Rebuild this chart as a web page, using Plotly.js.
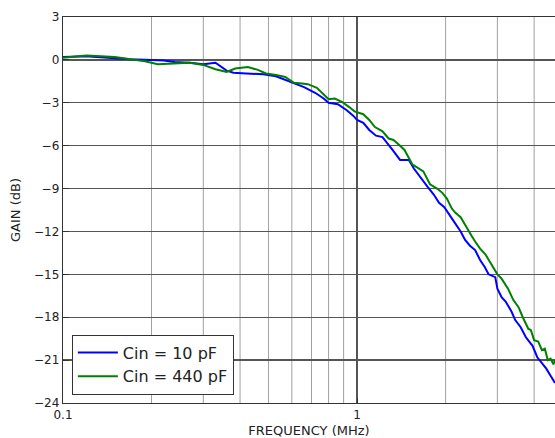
<!DOCTYPE html>
<html>
<head>
<meta charset="utf-8">
<script src="https://cdn.plot.ly/plotly-3.0.1.min.js"></script>
<style>html,body{margin:0;padding:0;background:#fff;}#chart{width:555px;height:438px;}</style>
</head>
<body>
<div id="chart"></div>
<script>
const seriesNames = ["Cin = 10 pF", "Cin = 440 pF"];
const freqBlue = [0.1,0.11,0.12,0.13,0.15,0.17,0.2,0.22,0.24,0.27,0.3,0.33,0.36,0.38,0.42,0.48,0.53,0.57,0.61,0.66,0.72,0.77,0.8,0.86,0.92,0.97,1.0,1.05,1.1,1.16,1.22,1.26,1.32,1.4,1.5,1.56,1.65,1.74,1.82,1.9,1.98,2.05,2.15,2.25,2.33,2.42,2.52,2.62,2.72,2.8,2.95,3.0,3.1,3.2,3.35,3.45,3.6,3.75,3.85,3.95,4.1,4.25,4.4,4.55,4.71];
const gainBlue = [0.2,0.22,0.25,0.2,0.1,0.05,0.0,-0.05,-0.15,-0.2,-0.3,-0.2,-0.75,-0.9,-0.95,-1.0,-1.15,-1.4,-1.6,-1.9,-2.3,-2.7,-3.0,-3.1,-3.5,-3.9,-4.2,-4.4,-4.9,-5.3,-5.4,-5.8,-6.3,-7.0,-7.0,-7.6,-8.3,-8.9,-9.4,-10.0,-10.3,-10.8,-11.4,-12.0,-12.6,-13.0,-13.3,-14.0,-14.5,-15.0,-15.2,-16.0,-16.6,-16.9,-17.6,-18.2,-18.7,-19.4,-19.7,-20.0,-20.8,-21.2,-21.6,-22.1,-22.6];
const freqGreen = [0.1,0.11,0.12,0.13,0.15,0.17,0.19,0.21,0.24,0.27,0.3,0.33,0.36,0.385,0.425,0.46,0.49,0.53,0.57,0.61,0.65,0.68,0.73,0.76,0.8,0.84,0.89,0.94,0.98,1.05,1.1,1.15,1.22,1.28,1.33,1.4,1.45,1.54,1.6,1.68,1.77,1.87,1.95,2.02,2.1,2.16,2.25,2.38,2.45,2.52,2.62,2.73,2.85,3.0,3.1,3.26,3.4,3.54,3.66,3.82,3.9,4.0,4.13,4.25,4.35,4.45,4.55,4.65,4.71];
const gainGreen = [0.15,0.22,0.3,0.28,0.2,0.05,-0.1,-0.3,-0.25,-0.2,-0.35,-0.65,-0.85,-0.6,-0.5,-0.7,-0.95,-1.05,-1.2,-1.6,-1.65,-1.7,-1.95,-2.3,-2.75,-2.7,-2.95,-3.3,-3.6,-3.8,-4.2,-4.7,-5.0,-5.5,-5.6,-6.0,-6.3,-7.3,-7.5,-7.8,-8.7,-9.0,-9.3,-9.7,-10.4,-10.7,-11.0,-11.9,-12.3,-12.7,-13.2,-13.6,-14.2,-15.0,-15.3,-16.0,-16.8,-17.3,-18.0,-18.8,-18.9,-19.6,-19.7,-20.3,-20.2,-21.0,-20.9,-21.3,-21.0];
const yTicks = [-24,-21,-18,-15,-12,-9,-6,-3,0,3];
const xTickVals = [0.1, 1];
const xTickText = ["0.1", "1"];
const minorVals = [0.2,0.3,0.4,0.5,0.6,0.7,0.8,0.9,2,3,4];

const font = "DejaVu Sans, sans-serif";
const shapes = minorVals.map(v => ({type:"line", xref:"x", yref:"paper", x0:v, x1:v, y0:0, y1:1, layer:"below", line:{color:"#a0a0a0", width:1}}));

const traces = [
  {x: freqBlue, y: gainBlue, name: seriesNames[0], mode: "lines", line: {color: "#0000ff", width: 2}},
  {x: freqGreen, y: gainGreen, name: seriesNames[1], mode: "lines", line: {color: "#008000", width: 2}}
];

const layout = {
  width: 555, height: 438,
  margin: {l: 63, r: 0, t: 17, b: 35},
  paper_bgcolor: "#fff", plot_bgcolor: "#fff",
  font: {family: font, size: 12, color: "#222"},
  showlegend: true,
  legend: {x: 0.018, y: 0.022, xanchor: "left", yanchor: "bottom", bgcolor: "#fff", bordercolor: "#333", borderwidth: 1, itemwidth: 40, font: {family: font, size: 16, color: "#222"}},
  xaxis: {
    type: "log", range: [-1, Math.log10(4.71)],
    tickvals: xTickVals, ticktext: xTickText,
    ticks: "inside", ticklen: 5, tickcolor: "#333",
    showgrid: true, gridcolor: "#555", gridwidth: 1.3,
    showline: true, linecolor: "#333", linewidth: 1.3, mirror: true,
    zeroline: false,
    title: {text: "FREQUENCY (MHz)", font: {family: font, size: 13, color: "#222"}, standoff: 6},
    tickfont: {family: font, size: 12, color: "#222"}
  },
  yaxis: {
    range: [-24, 3], tickvals: yTicks,
    ticks: "inside", ticklen: 6, tickcolor: "#333",
    showgrid: true, gridcolor: "#555", gridwidth: 1.3,
    showline: true, linecolor: "#333", linewidth: 1.3,
    zeroline: false,
    title: {text: "GAIN (dB)", font: {family: font, size: 13, color: "#222"}, standoff: 10},
    tickfont: {family: font, size: 12, color: "#222"}
  },
  shapes: shapes
};

Plotly.newPlot("chart", traces, layout, {displayModeBar: false, staticPlot: true});
</script>
</body>
</html>
